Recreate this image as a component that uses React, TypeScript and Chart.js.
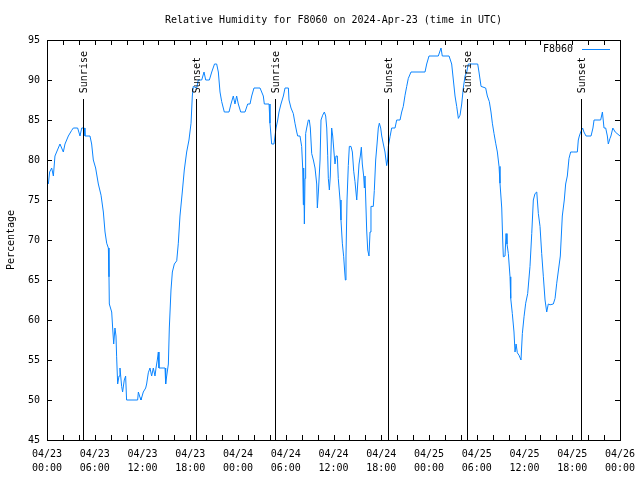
import React, { useEffect, useRef } from "react";
import { Chart, registerables } from "chart.js";

Chart.register(...registerables);

const FONT = '"DejaVu Sans Mono", "Liberation Mono", monospace';

const titleText = "Relative Humidity for F8060 on 2024-Apr-23 (time in UTC)";
const yAxisTitle = "Percentage";
const seriesName = "F8060";

// hours since 2024-04-23 00:00 UTC
const hours: number[] = [
  0.17, 0.33, 0.59, 0.8, 1.0, 1.21, 1.63, 2.05, 2.26, 2.68, 3.1, 3.31, 3.85, 4.15, 4.36, 4.69, 4.77, 5.4, 5.61, 5.82,
  6.11, 6.45, 6.79, 7.08, 7.29, 7.5, 7.71, 7.79, 7.83, 8.13, 8.25, 8.38, 8.54, 8.67, 8.75, 8.88, 9.05, 9.17, 9.38, 9.5,
  9.71, 9.88, 10.0, 11.39, 11.48, 11.69, 11.81, 12.1, 12.4, 12.52, 12.73, 12.94, 13.15, 13.36, 13.57, 13.7, 13.86, 13.99, 14.07, 14.83,
  14.91, 15.04, 15.25, 15.37, 15.58, 15.75, 16.0, 16.3, 16.5, 16.71, 17.0, 17.25, 17.55, 17.84, 18.1, 18.26, 18.38, 18.81, 19.01, 19.44,
  19.73, 19.94, 20.4, 20.7, 21.05, 21.32, 21.53, 21.74, 21.95, 22.28, 22.87, 23.12, 23.41, 23.62, 23.83, 24.04, 24.34, 24.88, 25.22, 25.51,
  25.72, 26.01, 26.77, 27.18, 27.31, 27.9, 28.02, 28.23, 28.52, 28.65, 28.78, 28.99, 29.15, 29.4, 29.7, 29.91, 30.33, 30.41, 30.66, 30.95,
  31.16, 31.38, 31.5, 31.79, 32.0, 32.13, 32.21, 32.25, 32.34, 32.42, 32.5, 32.63, 32.84, 32.96, 33.09, 33.26, 33.47, 33.68, 33.89, 33.97,
  34.1, 34.31, 34.43, 34.64, 34.85, 35.02, 35.15, 35.27, 35.35, 35.48, 35.6, 35.77, 35.9, 36.06, 36.19, 36.32, 36.48, 36.6, 36.82, 36.94,
  37.11, 37.28, 37.41, 37.49, 37.57, 37.7, 37.86, 37.99, 38.2, 38.37, 38.54, 38.7, 38.92, 39.04, 39.21, 39.37, 39.5, 39.62, 39.79, 39.88,
  39.96, 40.17, 40.3, 40.46, 40.59, 40.71, 41.0, 41.13, 41.3, 41.47, 41.63, 41.76, 41.93, 42.06, 42.26, 42.47, 42.68, 42.8, 42.89, 43.1,
  43.31, 43.73, 43.94, 44.36, 44.57, 44.77, 44.99, 45.2, 45.4, 45.74, 47.5, 47.71, 48.0, 49.17, 49.51, 49.67, 50.52, 50.85, 51.06, 51.27,
  51.48, 51.69, 51.9, 52.11, 52.31, 52.53, 52.74, 52.94, 54.12, 54.28, 54.54, 55.12, 55.33, 55.58, 55.79, 55.96, 56.17, 56.38, 56.59, 56.8,
  56.92, 57.14, 57.26, 57.34, 57.55, 57.68, 57.8, 57.97, 58.18, 58.27, 58.47, 58.68, 58.81, 58.94, 59.1, 59.31, 59.56, 59.73, 59.94, 60.15,
  60.4, 60.69, 60.91, 61.11, 61.32, 61.54, 61.74, 61.95, 62.16, 62.37, 62.58, 62.79, 62.99, 63.21, 63.62, 63.84, 64.05, 64.5, 64.75, 65.0,
  65.17, 65.38, 65.59, 65.8, 66.2, 66.64, 66.76, 66.89, 67.1, 67.3, 67.47, 67.73, 68.36, 68.6, 68.74, 69.57, 69.79, 69.99, 70.2, 70.41,
  70.53, 70.74, 70.86, 71.1, 71.4, 72.0,
];

const rh: number[] = [
  77, 78.5, 79, 78, 80.5, 81, 82, 81, 82, 83, 83.7, 84, 84, 83, 84, 84, 83, 83, 82, 80,
  79, 77, 75.6, 73.5, 71, 69.6, 69, 65.4, 62, 61, 59, 57, 59, 58, 55.4, 52, 53, 54, 51.7, 51,
  52.5, 53, 50, 50, 51, 50.3, 50, 51, 51.5, 52, 53.4, 54, 53, 54, 53, 54, 55, 56, 54, 54,
  52, 53, 54.5, 59, 63.75, 66, 67, 67.4, 69.6, 73, 76, 78.75, 81, 82.5, 84.6, 88, 89.2, 89, 90, 90,
  91, 90, 90, 91, 92, 92, 91, 88.5, 87.3, 86, 86, 87, 88, 87, 88, 87, 86, 86, 87, 87,
  88, 89, 89, 88, 87, 87, 84.6, 82, 82, 83, 84, 85, 86, 87, 88, 89, 89, 87.5, 86.5, 85.8,
  84.6, 83.5, 83, 83, 81.7, 79, 74.4, 79, 72, 77.7, 83.3, 84, 85, 85, 84, 80.8, 80, 79, 77, 74,
  76, 80, 85, 85.6, 86, 85.5, 84, 80.6, 77.7, 76.25, 78, 84, 83, 81, 79.5, 80.5, 80.5, 77.7, 75, 72.5,
  69.6, 67.9, 66, 65, 68, 75, 79.3, 81.7, 81.7, 81, 78.6, 77.3, 75, 77, 79.5, 80.5, 81.6, 79.5, 78, 76.5,
  78, 71.25, 68.75, 68, 71, 74.2, 74.2, 76.2, 80, 82, 84, 84.6, 84, 83, 82, 81, 79.3, 80, 81.7, 82.9,
  84, 84, 85, 85, 86, 86.7, 88.1, 89.2, 90.2, 91, 91, 92, 93, 93, 94, 93, 93, 92, 90, 88,
  86.7, 85.2, 85.6, 87, 89, 90.5, 91, 92, 92, 91, 89.2, 89, 88, 87.3, 86, 84.6, 83.3, 82.1, 81, 79.2,
  77.1, 74, 70, 67.9, 68, 70.8, 69.5, 68.3, 65.4, 62.7, 60.8, 58.5, 56, 57, 55.9, 55.6, 55, 58.3, 60.4, 62.1,
  63.3, 66.7, 70.8, 75, 75.8, 76, 73.3, 71.7, 68.3, 65.4, 62.5, 61, 62, 61.9, 62, 62.7, 64.6, 68, 73, 75,
  77, 78, 80.2, 81, 81, 81, 82.5, 83, 83.6, 84, 83.5, 83, 83, 84, 85, 85, 86, 84, 84, 83,
  82, 82.7, 83, 84, 83.5, 83,
];

const sunTimes: number[] = [4.55, 18.75, 28.68, 42.88, 52.73, 67.05];
const sunLabels: string[] = ["Sunrise", "Sunset", "Sunrise", "Sunset", "Sunrise", "Sunset"];
const sunMarkerTop = 87.6;

const dayLabels: string[] = ["04/23", "04/23", "04/23", "04/23", "04/24", "04/24", "04/24", "04/24", "04/25", "04/25", "04/25", "04/25", "04/26"];
const timeLabels: string[] = ["00:00", "06:00", "12:00", "18:00", "00:00", "06:00", "12:00", "18:00", "00:00", "06:00", "12:00", "18:00", "00:00"];

const lineColor = "#0a84ff";

const decorPlugin = {
  id: "decor",
  afterDatasetsDraw(chart: any) {
    const { ctx } = chart;
    const xs = chart.scales.x;
    const ys = chart.scales.y;
    ctx.save();
    ctx.strokeStyle = "#000";
    ctx.lineWidth = 1;
    ctx.beginPath();
    sunTimes.forEach((t) => {
      const x = Math.round(xs.getPixelForValue(t)) + 0.5;
      ctx.moveTo(x, Math.round(ys.getPixelForValue(45)));
      ctx.lineTo(x, Math.round(ys.getPixelForValue(sunMarkerTop)));
    });
    ctx.stroke();
    ctx.restore();
  },
  afterDraw(chart: any) {
    const { ctx, chartArea } = chart;
    const xs = chart.scales.x;
    const ys = chart.scales.y;
    const { left, right, top, bottom } = chartArea;
    ctx.save();
    ctx.strokeStyle = "#000";
    ctx.lineWidth = 1;
    // border
    ctx.strokeRect(Math.round(left) + 0.5, Math.round(top) + 0.5, Math.round(right - left), Math.round(bottom - top));
    // ticks
    ctx.beginPath();
    for (let h = 0; h <= 72; h += 2) {
      const x = Math.round(xs.getPixelForValue(h)) + 0.5;
      ctx.moveTo(x, bottom);
      ctx.lineTo(x, bottom - 5);
      ctx.moveTo(x, top);
      ctx.lineTo(x, top + 5);
    }
    for (let v = 45; v <= 95; v += 5) {
      const y = Math.round(ys.getPixelForValue(v)) + 0.5;
      ctx.moveTo(left, y);
      ctx.lineTo(left + 5, y);
      ctx.moveTo(right, y);
      ctx.lineTo(right - 5, y);
    }
    ctx.stroke();

    ctx.fillStyle = "#000";
    ctx.font = "10px " + FONT;
    // sun labels
    sunTimes.forEach((t, i) => {
      const x = Math.round(xs.getPixelForValue(t)) + 1;
      const y = ys.getPixelForValue(sunMarkerTop) - 6;
      ctx.save();
      ctx.translate(x, y);
      ctx.rotate(-Math.PI / 2);
      ctx.textAlign = "left";
      ctx.textBaseline = "middle";
      ctx.fillText(sunLabels[i], 0, 0);
      ctx.restore();
    });
    // title
    ctx.textAlign = "center";
    ctx.textBaseline = "middle";
    ctx.fillText(titleText, (left + right) / 2, 20);
    // y-axis title
    ctx.save();
    ctx.translate(11, (top + bottom) / 2);
    ctx.rotate(-Math.PI / 2);
    ctx.fillText(yAxisTitle, 0, 0);
    ctx.restore();
    // legend
    ctx.textAlign = "right";
    ctx.fillText(seriesName, 573, 49);
    ctx.strokeStyle = lineColor;
    ctx.beginPath();
    ctx.moveTo(582, 49.5);
    ctx.lineTo(610, 49.5);
    ctx.stroke();
    ctx.restore();
  },
};

export default function App() {
  const ref = useRef<HTMLCanvasElement | null>(null);
  useEffect(() => {
    if (!ref.current) return;
    const chart = new Chart(ref.current, {
      type: "line",
      data: {
        datasets: [
          {
            label: seriesName,
            data: hours.map((h, i) => ({ x: h, y: rh[i] })),
            borderColor: lineColor,
            borderWidth: 1,
            pointRadius: 0,
            tension: 0,
          },
        ],
      },
      options: {
        responsive: false,
        animation: false,
        layout: { padding: { top: 40, right: 20, left: 0, bottom: 0 } },
        plugins: { legend: { display: false }, title: { display: false }, tooltip: { enabled: false } },
        scales: {
          x: {
            type: "linear",
            min: 0,
            max: 72,
            afterFit: (s: any) => {
              s.height = 40;
              s.paddingLeft = 0;
              s.paddingRight = 0;
            },
            grid: { display: false, drawTicks: false },
            border: { display: false },
            ticks: {
              stepSize: 6,
              autoSkip: false,
              maxRotation: 0,
              padding: 7,
              color: "#000",
              font: { family: FONT, size: 10, lineHeight: 1.4 },
              callback: (value: any) => {
                const i = Math.round(Number(value) / 6);
                return [dayLabels[i], timeLabels[i]];
              },
            },
          },
          y: {
            type: "linear",
            min: 45,
            max: 95,
            afterFit: (s: any) => {
              s.width = 47;
              s.paddingTop = 0;
              s.paddingBottom = 0;
            },
            grid: { display: false, drawTicks: false },
            border: { display: false },
            ticks: {
              stepSize: 5,
              padding: 7,
              color: "#000",
              font: { family: FONT, size: 10 },
            },
          },
        },
      },
      plugins: [decorPlugin],
    } as any);
    return () => chart.destroy();
  }, []);
  return (
    <div style={{ position: "fixed", left: 0, top: 0, width: 640, height: 480, background: "#fff" }}>
      <canvas ref={ref} width={640} height={480} style={{ width: 640, height: 480 }} />
    </div>
  );
}
